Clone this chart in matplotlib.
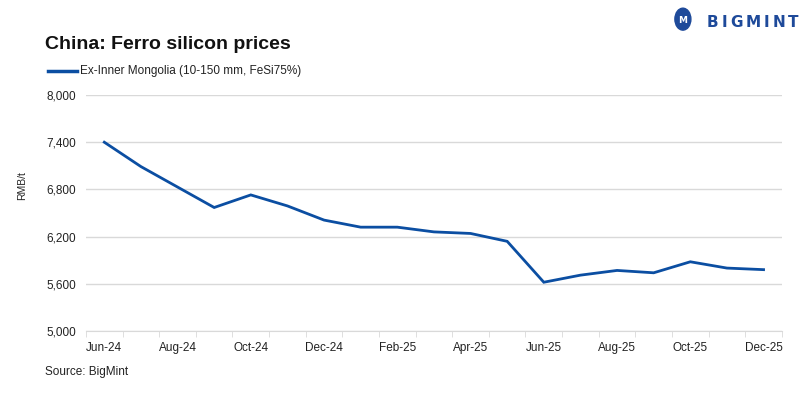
import numpy as np
import matplotlib
matplotlib.use('Agg')
import matplotlib.pyplot as plt
from matplotlib.patches import Ellipse
from matplotlib.ticker import FuncFormatter, MultipleLocator

months = ['Jun-24', 'Jul-24', 'Aug-24', 'Sep-24', 'Oct-24', 'Nov-24', 'Dec-24',
          'Jan-25', 'Feb-25', 'Mar-25', 'Apr-25', 'May-25', 'Jun-25', 'Jul-25',
          'Aug-25', 'Sep-25', 'Oct-25', 'Nov-25', 'Dec-25']
prices = [7400, 7090, 6830, 6570, 6730, 6590, 6410,
          6320, 6320, 6260, 6240, 6140, 5620, 5710,
          5770, 5740, 5880, 5800, 5780]
yticks = [5000, 5600, 6200, 6800, 7400, 8000]

plt.rcParams['font.family'] = ['Liberation Sans Narrow', 'Liberation Sans', 'DejaVu Sans']

fig = plt.figure(figsize=(8.12, 3.99), dpi=100)
ax = fig.add_axes([0.1059, 0.1704, 0.857, 0.5915])

x = np.arange(len(months))
line_col = '#0B4EA2'
ax.plot(x, prices, color=line_col, lw=2.0, solid_joinstyle='miter')

ax.set_xlim(-0.5, len(months) - 0.5)
ax.set_ylim(5000, 8000)
ax.set_yticks(yticks)
ax.yaxis.set_major_formatter(FuncFormatter(lambda v, p: f'{int(v):,}'))
ax.grid(axis='y', color='#D9D9D9', lw=1)
ax.set_axisbelow(True)

ax.set_xticks(x[::2])
ax.set_xticklabels(months[::2])
ax.xaxis.set_minor_locator(MultipleLocator(1, offset=0.5))
ax.tick_params(axis='x', which='major', length=0, pad=8, labelsize=8.5, colors='#222222')
ax.tick_params(axis='x', which='minor', length=4, color='#D9D9D9')
ax.tick_params(axis='y', length=0, pad=7, labelsize=8.5, colors='#222222')

for s in ['top', 'right', 'left']:
    ax.spines[s].set_visible(False)
ax.spines['bottom'].set_color('#D9D9D9')

fig.text(0.027, 0.534, 'RMB/t', rotation=90, fontsize=7.5, ha='center', va='center', color='#222222')

fig.text(0.055, 0.888, 'China: Ferro silicon prices', fontsize=14, fontweight='bold', va='center', color='#111111')
fig.lines.append(plt.Line2D([0.059, 0.095], [0.822, 0.822], transform=fig.transFigure, color=line_col, lw=2.5))
fig.text(0.098, 0.822, 'Ex-Inner Mongolia (10-150 mm, FeSi75%)', fontsize=8.5, va='center', color='#222222')
fig.text(0.055, 0.068, 'Source: BigMint', fontsize=8.5, va='center', color='#222222')

# logo
navy = '#1E4A9A'
fig.patches.append(Ellipse((0.841, 0.952), 0.0197, 0.055, transform=fig.transFigure, color=navy))
fig.text(0.841, 0.948, 'M', fontsize=6.5, color='white', fontweight='bold', ha='center', va='center',
         family=['DejaVu Sans'])
renderer = fig.canvas.get_renderer()
lx = 707
for ch in 'BIGMINT':
    t = fig.text(lx / 812, 1 - 22.5 / 399, ch, fontsize=11, fontweight='bold', color=navy,
                 va='center', family=['DejaVu Sans'])
    lx += t.get_window_extent(renderer).width + 3

fig.savefig('out.png', dpi=100)
